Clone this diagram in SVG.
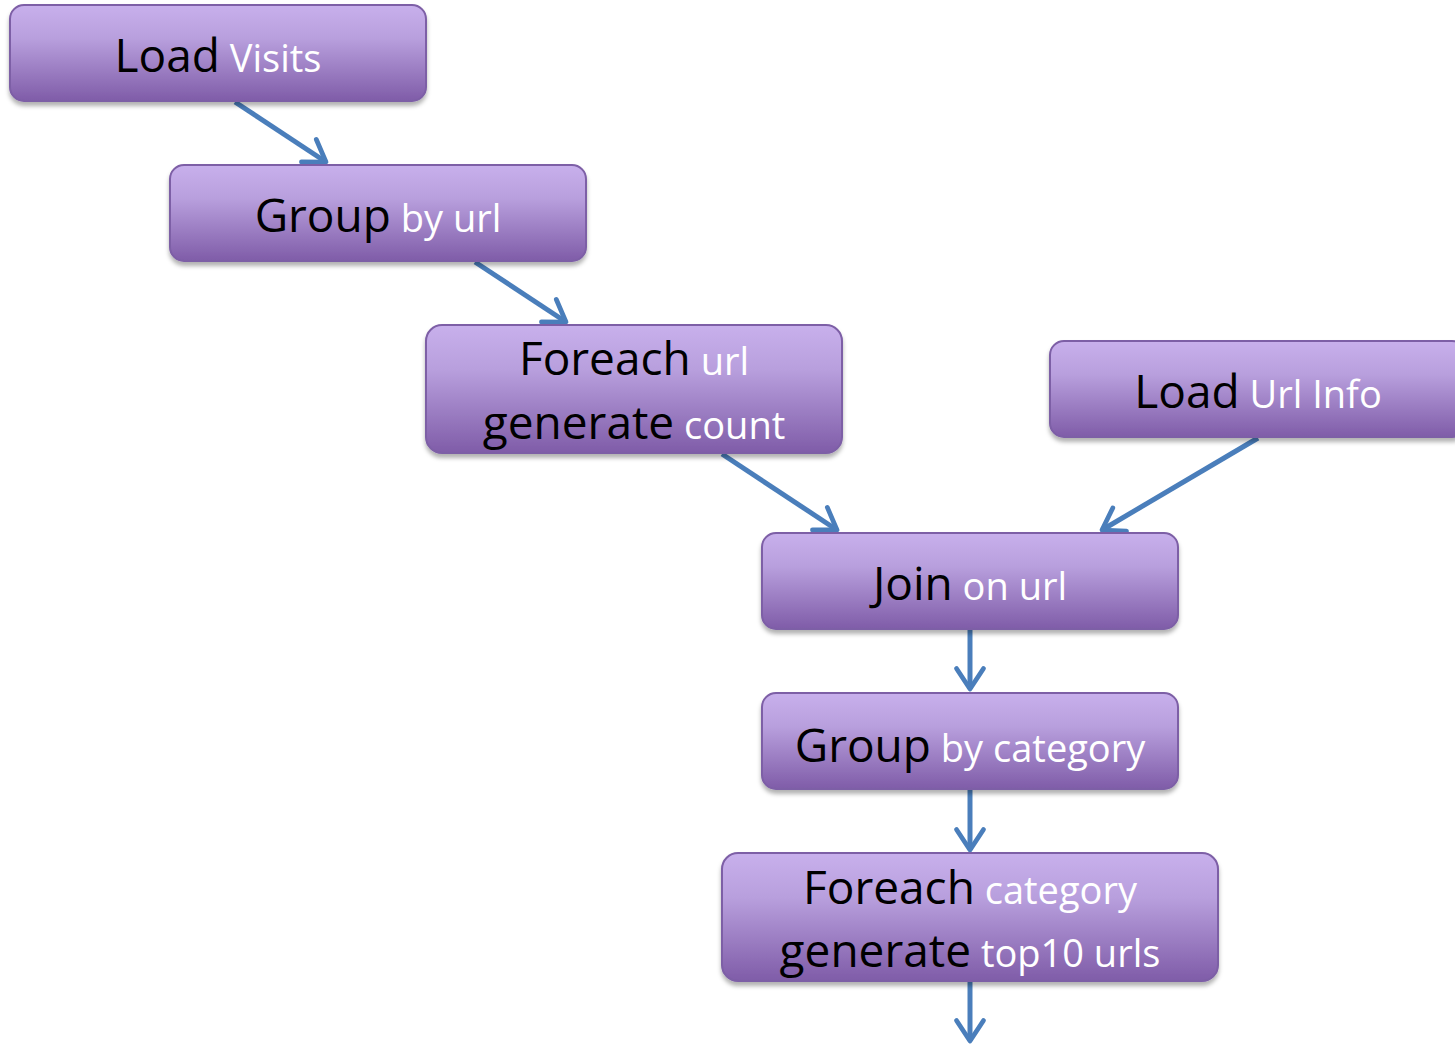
<svg xmlns="http://www.w3.org/2000/svg" width="1455" height="1045" viewBox="0 0 1455 1045">
<defs>
<linearGradient id="g" x1="0" y1="0" x2="0" y2="1">
<stop offset="0" stop-color="#c8b0ec"/>
<stop offset="0.35" stop-color="#b89fdd"/>
<stop offset="1" stop-color="#7f5ca8"/>
</linearGradient>
<filter id="sh" x="-10%" y="-10%" width="120%" height="130%">
<feDropShadow dx="0" dy="4" stdDeviation="2" flood-color="#000" flood-opacity="0.3"/>
</filter>
<marker id="ah" markerWidth="8" markerHeight="8" refX="5.3" refY="4" orient="auto" markerUnits="strokeWidth">
<path d="M1.2,1.3 L5.3,4 L1.2,6.7" fill="none" stroke="#4a7ebb" stroke-width="0.95" stroke-linecap="round" stroke-linejoin="round"/>
</marker>
</defs>
<style>
.box{fill:url(#g);stroke:#7d5ea6;stroke-width:2;filter:url(#sh)}
.t{font-family:"Open Sans","Noto Sans",sans-serif;text-anchor:middle;font-size:38px}
.b{fill:#000;font-size:46px}
.w{fill:#fff;font-size:38px}
.c{stroke:#4a7ebb;stroke-width:5;fill:none;marker-end:url(#ah)}
</style>
<g id="connectors">
<line class="c" x1="235" y1="102" x2="326" y2="162"/>
<line class="c" x1="475" y1="262" x2="566" y2="322"/>
<line class="c" x1="722" y1="454" x2="837" y2="530"/>
<line class="c" x1="1258" y1="438" x2="1102" y2="530"/>
<line class="c" x1="970" y1="630" x2="970" y2="689"/>
<line class="c" x1="970" y1="790" x2="970" y2="850"/>
<line class="c" x1="970" y1="982" x2="970" y2="1041"/>
</g>
<g id="load-visits">
<rect class="box" x="10" y="5" width="416" height="96" rx="14"/>
<text class="t" x="218" y="72"><tspan class="b">Load</tspan><tspan class="w"> Visits</tspan></text>
</g>
<g id="group-by-url">
<rect class="box" x="170" y="165" width="416" height="96" rx="14"/>
<text class="t" x="378" y="232"><tspan class="b">Group</tspan><tspan class="w"> by url</tspan></text>
</g>
<g id="foreach-url">
<rect class="box" x="426" y="325" width="416" height="128" rx="16"/>
<text class="t" x="634" y="375"><tspan class="b">Foreach</tspan><tspan class="w"> url</tspan></text>
<text class="t" x="634" y="439"><tspan class="b">generate</tspan><tspan class="w"> count</tspan></text>
</g>
<g id="load-url-info">
<rect class="box" x="1050" y="341" width="416" height="96" rx="14"/>
<text class="t" x="1258" y="408"><tspan class="b">Load</tspan><tspan class="w"> Url Info</tspan></text>
</g>
<g id="join-on-url">
<rect class="box" x="762" y="533" width="416" height="96" rx="14"/>
<text class="t" x="970" y="600"><tspan class="b">Join</tspan><tspan class="w"> on url</tspan></text>
</g>
<g id="group-by-category">
<rect class="box" x="762" y="693" width="416" height="96" rx="14"/>
<text class="t" x="970" y="762"><tspan class="b">Group</tspan><tspan class="w"> by category</tspan></text>
</g>
<g id="foreach-category">
<rect class="box" x="722" y="853" width="496" height="128" rx="16"/>
<text class="t" x="970" y="904"><tspan class="b">Foreach</tspan><tspan class="w"> category</tspan></text>
<text class="t" x="970" y="967"><tspan class="b">generate</tspan><tspan class="w"> top10 urls</tspan></text>
</g>
</svg>
